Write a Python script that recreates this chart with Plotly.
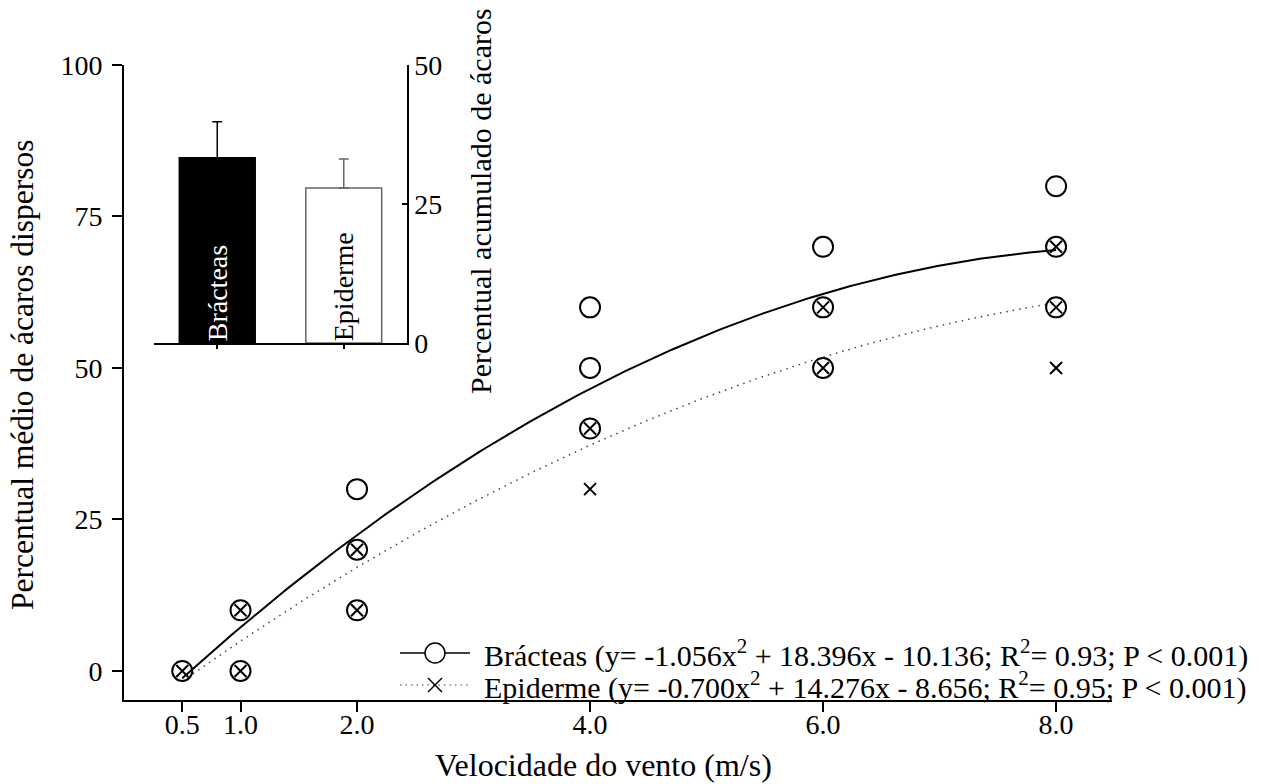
import numpy as np
import plotly.graph_objects as go

FONT = "Liberation Serif, Times New Roman, serif"

# ---- data ----
bract_x = [0.5, 1, 1, 2, 2, 2, 4, 4, 4, 6, 6, 6, 8, 8, 8]
bract_y = [0, 10, 0, 30, 20, 10, 60, 50, 40, 70, 60, 50, 80, 70, 60]
epid_x = [0.5, 1, 1, 2, 2, 4, 4, 6, 6, 8, 8, 8]
epid_y = [0, 10, 0, 20, 10, 40, 30, 60, 50, 70, 60, 50]

bract_coef = [-1.056, 18.396, -10.136]
epid_coef = [-0.700, 14.276, -8.656]
fit_x_range = [0.5, 8.0]

x_tickvals = [0.5, 1, 2, 4, 6, 8]
x_ticktext = ["0.5", "1.0", "2.0", "4.0", "6.0", "8.0"]
y_tickvals = [0, 25, 50, 75, 100]

inset_cats = ["Brácteas", "Epiderme"]
inset_vals = [33.3, 27.9]
inset_err = [6.5, 5.2]
inset_ticks = [0, 25, 50]

leg_bract = "Brácteas (y= -1.056x<sup>2</sup> + 18.396x - 10.136; R<sup>2</sup>= 0.93; P < 0.001)"
leg_epid = "Epiderme (y= -0.700x<sup>2</sup> + 14.276x - 8.656; R<sup>2</sup>= 0.95; P < 0.001)"

fx = np.linspace(fit_x_range[0], fit_x_range[1], 200)
fb = np.polyval(bract_coef, fx)
fe = np.polyval(epid_coef, fx)

# plot area in pixels (for paper-coordinate conversion of decorations)
L, R, T, B = 124, 1112, 65, 700
def px(xp):
    return (xp - L) / (R - L)
def py(yp):
    return (B - yp) / (B - T)

fig = go.Figure()

# fitted curves
fig.add_trace(go.Scatter(x=fx, y=fb, mode="lines", line=dict(color="black", width=2),
                         showlegend=False, hoverinfo="skip"))
fig.add_trace(go.Scatter(x=fx, y=fe, mode="lines",
                         line=dict(color="#444", width=1.5, dash="1.5px,5px"),
                         showlegend=False, hoverinfo="skip"))
# points
fig.add_trace(go.Scatter(x=bract_x, y=bract_y, mode="markers",
                         marker=dict(symbol="circle-open", size=20, color="black", line=dict(width=2)),
                         showlegend=False, cliponaxis=False))
fig.add_trace(go.Scatter(x=epid_x, y=epid_y, mode="markers",
                         marker=dict(symbol="x-thin-open", size=12, color="black", line=dict(width=2)),
                         showlegend=False, cliponaxis=False))

# inset bars
fig.add_trace(go.Bar(x=[inset_cats[0]], y=[inset_vals[0]], width=0.6, xaxis="x2", yaxis="y2",
                     marker=dict(color="black", line=dict(color="black", width=1.5)),
                     error_y=dict(type="data", symmetric=False, array=[inset_err[0]], arrayminus=[0],
                                  color="black", thickness=1.5, width=5),
                     showlegend=False))
fig.add_trace(go.Bar(x=[inset_cats[1]], y=[inset_vals[1]], width=0.6, xaxis="x2", yaxis="y2",
                     marker=dict(color="white", line=dict(color="#666", width=1.5)),
                     error_y=dict(type="data", symmetric=False, array=[inset_err[1]], arrayminus=[0],
                                  color="#666", thickness=1.5, width=5),
                     showlegend=False))

TICK = 28
axis_common = dict(showgrid=False, zeroline=False, showline=True, linecolor="black",
                   tickcolor="black", tickfont=dict(family=FONT, size=TICK, color="black"))

fig.update_layout(
    width=1268, height=784,
    margin=dict(l=L, r=1268 - R, t=T, b=784 - B),
    paper_bgcolor="white", plot_bgcolor="rgba(0,0,0,0)",
    font=dict(family=FONT, color="black"),
    barmode="overlay",
    showlegend=False,
    xaxis=dict(range=[0, 8.48], tickvals=x_tickvals, ticktext=x_ticktext, ticks="outside",
               ticklen=10, linewidth=2, tickwidth=2, ticklabelstandoff=-12, **axis_common),
    yaxis=dict(range=[-4.8, 100], tickvals=y_tickvals, ticks="outside", ticklen=10,
               linewidth=2, tickwidth=2, ticklabelstandoff=4, **axis_common),
    xaxis2=dict(domain=[px(154), px(407)], anchor="y2", range=[-0.5, 1.5], type="category",
                ticks="outside", ticklen=4, tickwidth=1.5, linewidth=1.5, showticklabels=False,
                **{k: v for k, v in axis_common.items() if k != "tickfont"}),
    yaxis2=dict(domain=[py(343), 1.0], anchor="x2", side="right", range=[0, 50], tickvals=inset_ticks,
                ticks="inside", ticklen=5, tickwidth=1.5, linewidth=1.5, **axis_common),
)

ann_font = dict(family=FONT, color="black")
fig.add_annotation(text="Velocidade do vento (m/s)", xref="paper", yref="paper", x=px(603), y=py(765),
                   xanchor="center", yanchor="middle", showarrow=False, font=dict(size=32, **ann_font))
fig.add_annotation(text="Percentual médio de ácaros dispersos", xref="paper", yref="paper",
                   x=px(22), y=py(375), xanchor="center", yanchor="middle", textangle=-90, showarrow=False,
                   font=dict(size=31.5, **ann_font))
fig.add_annotation(text="Percentual acumulado de ácaros", xref="paper", yref="paper",
                   x=px(480), y=py(201), xanchor="center", yanchor="middle",
                   textangle=-90, showarrow=False, font=dict(size=30, **ann_font))
fig.add_annotation(text=inset_cats[0], xref="x2", yref="y2", x=inset_cats[0], y=0,
                   xanchor="center", yanchor="bottom", textangle=-90, showarrow=False,
                   font=dict(size=28, family=FONT, color="white"))
fig.add_annotation(text=inset_cats[1], xref="x2", yref="y2", x=inset_cats[1], y=0,
                   xanchor="center", yanchor="bottom", textangle=-90, showarrow=False,
                   font=dict(size=28, family=FONT, color="black"))

# legend (drawn manually to match the compact layout)
leg_rows = [653, 685]
leg_texts = [leg_bract, leg_epid]
for yy, txt in zip(leg_rows, leg_texts):
    fig.add_annotation(text=txt, xref="paper", yref="paper", x=px(482), y=py(yy),
                       xanchor="left", yanchor="middle", showarrow=False,
                       font=dict(size=30, **ann_font))
# legend keys
fig.add_shape(type="line", xref="paper", yref="paper", x0=px(400), x1=px(470),
              y0=py(leg_rows[0]), y1=py(leg_rows[0]), line=dict(color="black", width=1.5))
fig.add_shape(type="circle", xref="paper", yref="paper", xsizemode="pixel", ysizemode="pixel",
              xanchor=px(435), yanchor=py(leg_rows[0]), x0=-10, x1=10, y0=-10, y1=10,
              fillcolor="white", line=dict(color="black", width=1.5))
fig.add_shape(type="line", xref="paper", yref="paper", x0=px(400), x1=px(470),
              y0=py(leg_rows[1]), y1=py(leg_rows[1]), line=dict(color="#444", width=1.2, dash="1.5px,4px"))
for sgn in (1, -1):
    fig.add_shape(type="line", xref="paper", yref="paper", xsizemode="pixel", ysizemode="pixel",
                  xanchor=px(435), yanchor=py(leg_rows[1]), x0=-7, x1=7, y0=-7 * sgn, y1=7 * sgn,
                  line=dict(color="black", width=1.5))

fig.write_html("out.html")
